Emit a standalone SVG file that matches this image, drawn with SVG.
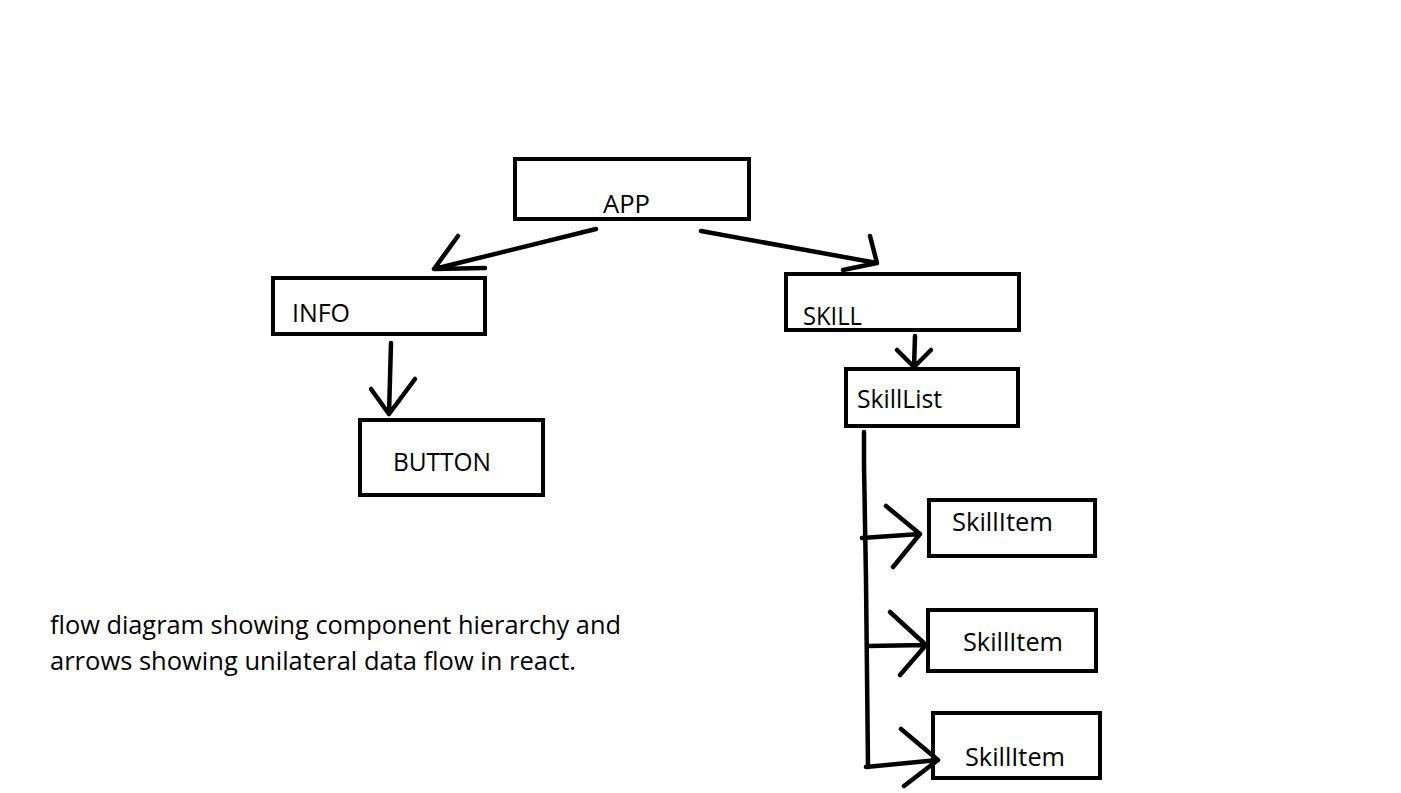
<svg xmlns="http://www.w3.org/2000/svg" width="1401" height="793" viewBox="0 0 1401 793">
<style>
.box{fill:#fff;stroke:#000;stroke-width:4}
.lbl{font-family:"Open Sans","Liberation Sans",sans-serif;font-size:25px;fill:#000}
.c{fill:none;stroke:#000;stroke-width:4.5;stroke-linecap:round;stroke-linejoin:round}
</style>
<rect width="1401" height="793" fill="#fff"/>
<g id="app"><rect class="box" x="515" y="159" width="234" height="60"/><text class="lbl" x="603" y="213" textLength="47" lengthAdjust="spacingAndGlyphs">APP</text></g>
<g id="info"><rect class="box" x="273" y="278" width="212" height="56"/><text class="lbl" x="292" y="322" textLength="58" lengthAdjust="spacingAndGlyphs">INFO</text></g>
<g id="skill"><rect class="box" x="786" y="274" width="233" height="56"/><text class="lbl" x="803" y="325" textLength="59" lengthAdjust="spacingAndGlyphs">SKILL</text></g>
<g id="skilllist"><rect class="box" x="846" y="369" width="172" height="57"/><text class="lbl" x="857" y="408" textLength="85" lengthAdjust="spacingAndGlyphs">SkillList</text></g>
<g id="button"><rect class="box" x="360" y="420" width="183" height="75"/><text class="lbl" x="393" y="471" textLength="98" lengthAdjust="spacingAndGlyphs">BUTTON</text></g>
<g id="skillitem1"><rect class="box" x="929" y="500" width="166" height="56"/><text class="lbl" x="952" y="531" textLength="101" lengthAdjust="spacingAndGlyphs">SkillItem</text></g>
<g id="skillitem2"><rect class="box" x="928" y="610" width="168" height="61"/><text class="lbl" x="963" y="651" textLength="100" lengthAdjust="spacingAndGlyphs">SkillItem</text></g>
<g id="skillitem3"><rect class="box" x="933" y="713" width="167" height="65"/><text class="lbl" x="965" y="766" textLength="100" lengthAdjust="spacingAndGlyphs">SkillItem</text></g>
<g id="connectors">
<path class="c" d="M596,229 L434,269 M458,236 L434,269 L485,268"/>
<path class="c" d="M701,231 L877,263 M870,236 L877,263 L843,270"/>
<path class="c" d="M391,343 L389,414 M371,389 L389,414 L415,379"/>
<path class="c" d="M915,336 L914,367 M897,350 L914,367 L931,350"/>
<path class="c" d="M864,432 L864,465 L866,580 L868,767"/>
<path class="c" d="M862,538 L920,534 M886,506 L920,534 L893,567"/>
<path class="c" d="M868,646 L926,645 M890,612 L926,645 L900,675"/>
<path class="c" d="M866,767 L938,760 M901,729 L938,760 L904,786"/>
</g>
<g id="caption">
<text class="lbl" x="50" y="634" font-size="26" textLength="571" lengthAdjust="spacingAndGlyphs">flow diagram showing component hierarchy and</text>
<text class="lbl" x="50" y="670" font-size="26" textLength="526" lengthAdjust="spacingAndGlyphs">arrows showing unilateral data flow in react.</text>
</g>
</svg>
